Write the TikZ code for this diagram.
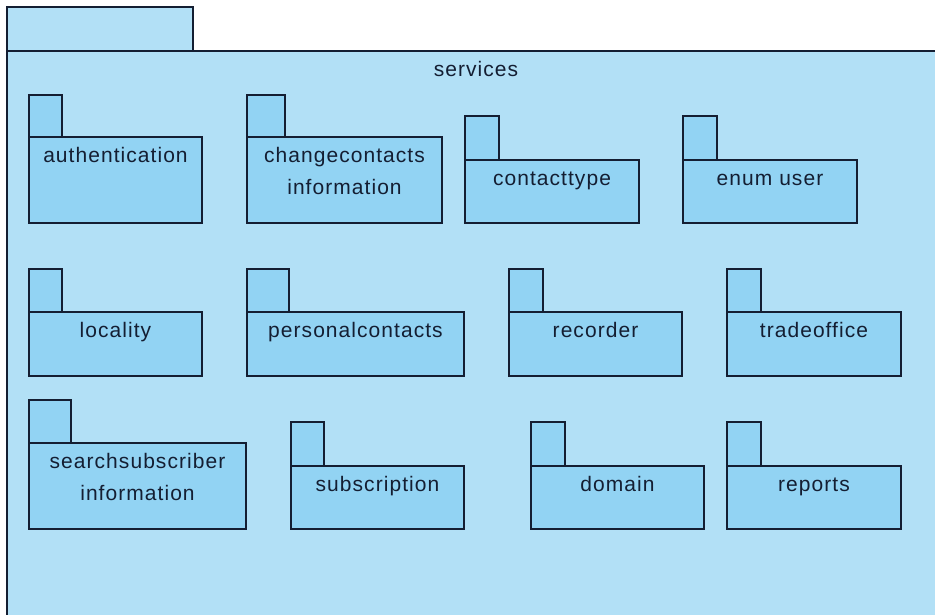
\documentclass[tikz,border=0pt]{standalone}
\usepackage{fontspec}
\setmainfont{Liberation Sans}[LetterSpace=5]
\definecolor{outerfill}{RGB}{178,224,246}
\definecolor{pkgfill}{RGB}{146,211,243}
\definecolor{pkgline}{RGB}{20,30,50}
\newcommand{\tallstrut}{\rule{0pt}{15pt}}
\begin{document}
\begin{tikzpicture}[x=1pt,y=-1pt,
  pkgtab/.style={draw=pkgline,fill=pkgfill,line width=1.8pt},
  pkgbody/.style={draw=pkgline,fill=pkgfill,line width=1.8pt},
  outer/.style={draw=pkgline,fill=outerfill,line width=1.8pt},
  lbl/.style={font=\fontsize{21}{32}\selectfont,text=pkgline,align=center,anchor=north,inner sep=0pt}]
\useasboundingbox (0,0) rectangle (935,614);
\fill[white] (0,0) rectangle (935,614);
% outer package
\fill[outerfill] (7,51) rectangle (940,620);
\draw[outer] (7,7) rectangle (193,51);
\draw[pkgline,line width=1.8pt] (7,640) -- (7,51) -- (960,51);
\node[lbl] (services) at (476,61) {\tallstrut services};
% package macro: name, tab x1 x2 y1 y2, body x3 y3, text
\newcommand{\pkg}[8]{%
  \draw[pkgtab] (#2,#4) rectangle (#3,#5);
  \draw[pkgbody] (#2,#5) rectangle (#6,#7);
  \node[lbl] (#1) at ({(#2+#6)/2},{#5+10}) {\tallstrut #8};}
\pkg{auth}{29}{62}{95}{137}{202}{223}{authentication}
\pkg{change}{247}{285}{95}{137}{442}{223}{changecontacts\\information}
\pkg{ctype}{465}{499}{116}{160}{639}{223}{contacttype}
\pkg{enumuser}{683}{717}{116}{160}{857}{223}{enum user}
\pkg{locality}{29}{62}{269}{312}{202}{376}{locality}
\pkg{personal}{247}{289}{269}{312}{464}{376}{personalcontacts}
\pkg{recorder}{509}{543}{269}{312}{682}{376}{recorder}
\pkg{trade}{727}{761}{269}{312}{901}{376}{tradeoffice}
\pkg{search}{29}{71}{400}{443}{246}{529}{searchsubscriber\\information}
\pkg{subscr}{291}{324}{422}{466}{464}{529}{subscription}
\pkg{domain}{531}{565}{422}{466}{704}{529}{domain}
\pkg{reports}{727}{761}{422}{466}{901}{529}{reports}
\end{tikzpicture}
\end{document}
